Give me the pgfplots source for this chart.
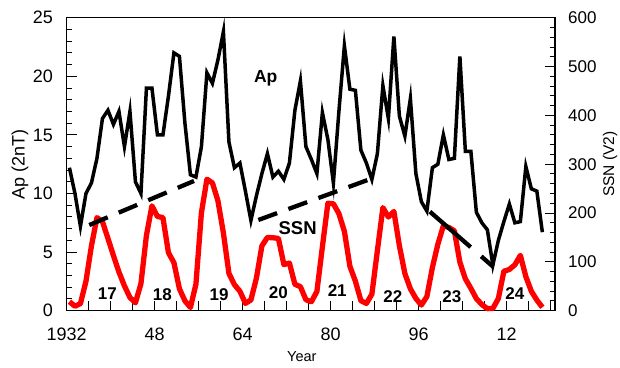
\documentclass[border=0pt]{standalone}
\usepackage{pgfplots}
\usepackage{pgfplotstable}
\pgfplotsset{compat=1.18}
\usepackage{fontspec}
\setmainfont{Liberation Sans}

\pgfplotstableread{
year ap ssn
1932 12.2 18.5
1933 10.0 9.2
1934 7.2 14.6
1935 10.0 60.2
1936 10.9 132.8
1937 13.0 190.6
1938 16.4 182.6
1939 17.1 148.0
1940 15.9 113.0
1941 17.0 79.2
1942 14.0 50.8
1943 17.0 27.1
1944 11.0 16.1
1945 10.0 55.3
1946 19.0 154.3
1947 19.0 214.7
1948 15.0 193.0
1949 15.0 190.7
1950 18.3 118.9
1951 22.0 98.3
1952 21.7 45.0
1953 16.0 20.1
1954 11.6 6.6
1955 11.4 54.2
1956 14.0 200.7
1957 20.3 269.3
1958 19.4 261.7
1959 21.4 225.1
1960 23.8 159.0
1961 14.4 76.4
1962 12.2 53.4
1963 12.6 39.9
1964 10.2 15.0
1965 7.7 22.0
1966 9.8 66.8
1967 11.7 132.9
1968 13.4 150.0
1969 11.4 149.4
1970 11.9 148.0
1971 11.2 94.4
1972 12.6 97.6
1973 17.1 54.1
1974 19.6 49.2
1975 14.0 22.5
1976 12.9 18.4
1977 11.7 39.3
1978 16.9 131.0
1979 14.6 220.1
1980 10.9 218.9
1981 17.0 198.9
1982 22.6 162.4
1983 18.9 91.0
1984 18.8 60.5
1985 13.7 20.6
1986 12.6 14.8
1987 11.2 33.9
1988 13.4 123.0
1989 19.2 211.1
1990 16.4 191.8
1991 23.4 203.3
1992 16.6 133.0
1993 14.9 76.1
1994 18.1 44.9
1995 11.7 25.1
1996 9.3 11.6
1997 8.5 28.9
1998 12.2 88.3
1999 12.5 136.3
2000 15.0 173.9
2001 12.9 170.4
2002 13.0 163.6
2003 21.7 99.3
2004 13.6 65.3
2005 13.6 45.8
2006 8.4 24.7
2007 7.5 12.6
2008 6.9 4.2
2009 3.9 4.8
2010 6.0 24.9
2011 7.6 80.8
2012 9.1 84.5
2013 7.5 94.0
2014 7.6 113.3
2015 12.3 69.8
2016 10.4 39.8
2017 10.2 21.7
2018 6.7 7.0
}\datatable

\begin{document}
\begin{tikzpicture}
\pgfplotsset{
  common/.style={
    scale only axis, width=488.3bp, height=293bp,
    xmin=1932, xmax=2020.8,
    axis line style={line width=1.1bp, black},
    major tick length=10bp, minor tick length=5bp,
    every tick/.style={line width=1bp, black},
    /pgf/number format/assume math mode=true,
    clip=false,
  }
}
\begin{axis}[common,
  name=main,
  ymin=0, ymax=25,
  xtick={1932,1936,...,2020},
  xticklabels={1932,,,,48,,,,64,,,,80,,,,96,,,,12,,},
  xtick pos=left,
  ytick={0,5,...,25}, minor y tick num=4,
  ytick pos=left,
  xticklabel style={font=\fontsize{18bp}{20bp}\selectfont, anchor=base, inner sep=0pt, yshift=-29.5bp},
  yticklabel style={font=\fontsize{18bp}{20bp}\selectfont, anchor=east, inner sep=0pt, xshift=-13.5bp},
]
\addplot[black, line width=3.5bp, mark=none] table[x expr=\thisrow{year}+0.5, y=ap]{\datatable};
\addplot[red, line width=5.3bp, line join=round, mark=none] table[x expr=\thisrow{year}+0.5, y expr=\thisrow{ssn}/24]{\datatable};
\addplot[black, line width=4.3bp, dash pattern=on 20bp off 12bp, mark=none] coordinates {(1936.1,7.31) (1955.15,11.07)};
\addplot[black, line width=4.3bp, dash pattern=on 20bp off 12bp, mark=none] coordinates {(1966.85,7.74) (1987.6,11.3)};
\addplot[black, line width=4.3bp, dash pattern=on 54bp off 14bp on 20bp off 14bp, mark=none] coordinates {(1998.05,8.45) (2009.56,3.75)};
\begin{scope}[every node/.style={font=\bfseries\fontsize{17bp}{19bp}\selectfont, inner sep=0pt}]
\node at (axis cs:1939.4,1.43) {17};
\node at (axis cs:1949.4,1.35) {18};
\node at (axis cs:1959.7,1.35) {19};
\node at (axis cs:1970.5,1.5) {20};
\node at (axis cs:1981.2,1.7) {21};
\node at (axis cs:1991.3,1.2) {22};
\node at (axis cs:2002.05,1.2) {23};
\node at (axis cs:2013.5,1.5) {24};
\end{scope}
\node[font=\bfseries\fontsize{17.5bp}{19bp}\selectfont, inner sep=0pt] at (axis cs:1968.2,19.8) {Ap};
\node[font=\bfseries\fontsize{18.5bp}{20bp}\selectfont, inner sep=0pt] at (axis cs:1974,7.05) {SSN};
\end{axis}
\begin{axis}[common,
  ymin=0, ymax=600,
  axis x line=none,
  axis y line*=right,
  ytick={0,100,...,600}, minor y tick num=4,
  yticklabel style={font=\fontsize{17bp}{19bp}\selectfont, anchor=west, inner sep=0pt, xshift=13bp},
]
\end{axis}
\node[rotate=90, font=\fontsize{18bp}{20bp}\selectfont, inner sep=0pt] at ([xshift=-46.7bp]main.west) {Ap (2nT)};
\node[rotate=90, font=\fontsize{15.5bp}{18bp}\selectfont, inner sep=0pt] at ([xshift=55bp]main.east) {SSN (V2)};
\node[font=\fontsize{14.5bp}{17bp}\selectfont, inner sep=0pt, anchor=base] at ([xshift=-9bp,yshift=-50.3bp]main.south) {Year};
\pgfresetboundingbox
\path[use as bounding box] ([xshift=-66.7bp,yshift=-56.3bp]main.south west) rectangle ([xshift=65bp,yshift=17.7bp]main.north east);
\end{tikzpicture}
\end{document}
